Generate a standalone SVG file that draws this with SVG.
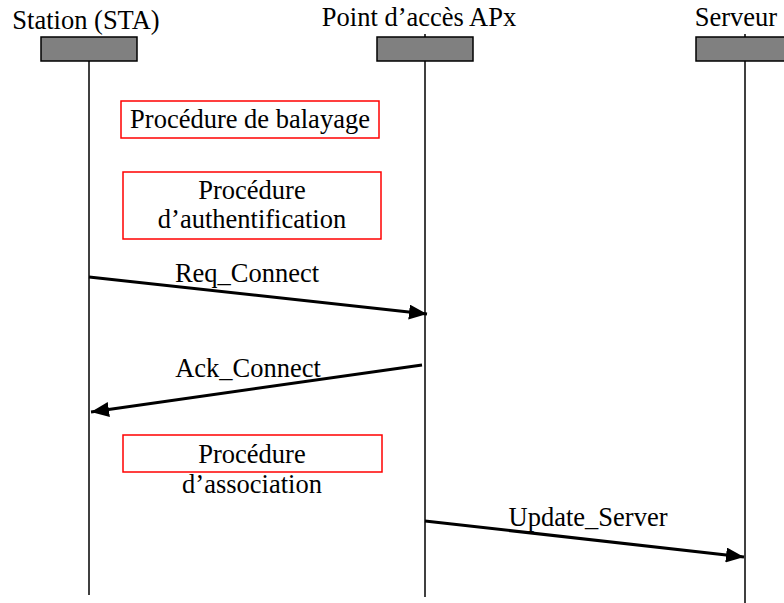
<svg xmlns="http://www.w3.org/2000/svg" width="784" height="603" viewBox="0 0 784 603">
<style>
text{font-family:"Liberation Serif","Times New Roman",serif;font-size:26.5px;fill:#000}
.hd{fill:#808080;stroke:#000;stroke-width:1.5}
.life{stroke:#000;stroke-width:1.5;fill:none}
.proc{fill:#fff;stroke:#f00;stroke-width:1.5}
.msg{stroke:#000;stroke-width:3;fill:none}
</style>
<defs>
<marker id="ah" markerWidth="6" markerHeight="5" refX="6" refY="2.5" orient="auto" markerUnits="strokeWidth">
<path d="M0,0 L6,2.5 L0,5 Z" fill="#000"/>
</marker>
</defs>
<rect width="784" height="603" fill="#fff"/>
<g id="sta">
<line class="life" x1="89" y1="61" x2="89" y2="595"/>
<rect class="hd" x="41" y="37" width="96" height="24"/>
<text x="86" y="29" text-anchor="middle">Station (STA)</text>
</g>
<g id="ap">
<line class="life" x1="425" y1="34" x2="425" y2="597"/>
<rect class="hd" x="377" y="37" width="96" height="24"/>
<text x="419" y="26" text-anchor="middle">Point d’accès APx</text>
</g>
<g id="serveur">
<line class="life" x1="745" y1="34" x2="745" y2="603"/>
<rect class="hd" x="696" y="37" width="96" height="24"/>
<text x="736" y="26" text-anchor="middle">Serveur</text>
</g>
<g id="balayage">
<rect class="proc" x="121" y="101" width="258" height="37"/>
<text x="250" y="128" text-anchor="middle">Procédure de balayage</text>
</g>
<g id="authentification">
<rect class="proc" x="123" y="172" width="258" height="67"/>
<text x="252" y="199" text-anchor="middle">Procédure</text>
<text x="252" y="228" text-anchor="middle">d’authentification</text>
</g>
<g id="association">
<rect class="proc" x="123" y="435" width="259" height="37"/>
<text x="252" y="463" text-anchor="middle">Procédure</text>
<text x="252" y="493" text-anchor="middle">d’association</text>
</g>
<g id="connectors">
<line class="msg" x1="89" y1="277" x2="427" y2="314" marker-end="url(#ah)"/>
<text x="247" y="282" text-anchor="middle">Req_Connect</text>
<line class="msg" x1="422" y1="365" x2="91" y2="412" marker-end="url(#ah)"/>
<text x="248" y="377" text-anchor="middle">Ack_Connect</text>
<line class="msg" x1="425" y1="521" x2="744" y2="557" marker-end="url(#ah)"/>
<text x="588" y="526" text-anchor="middle">Update_Server</text>
</g>
</svg>
